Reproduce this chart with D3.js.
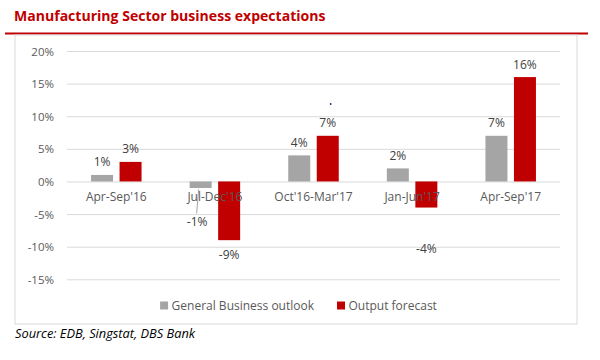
<!DOCTYPE html>
<html>
<head>
<meta charset="utf-8">
<script src="https://cdn.jsdelivr.net/npm/d3@7"></script>
<style>
  html, body { margin: 0; padding: 0; background: #ffffff; }
  svg { display: block; }
  text { font-family: "Open Sans", "Noto Sans", sans-serif; }
</style>
</head>
<body>
<svg id="chart" width="600" height="360"></svg>
<script>
// ---- data ----
const categories = ["Apr-Sep'16", "Jul-Dec'16", "Oct'16-Mar'17", "Jan-Jun'17", "Apr-Sep'17"];
const generalOutlook = [0.01, -0.01, 0.04, 0.02, 0.07];
const outputForecast = [0.03, -0.09, 0.07, -0.04, 0.16];
const seriesNames = ["General Business outlook", "Output forecast"];
const yTicks = [-0.15, -0.10, -0.05, 0, 0.05, 0.10, 0.15, 0.20];
const titleText = "Manufacturing Sector business expectations";
const sourceText = "Source: EDB, Singstat, DBS Bank";

// ---- styles ----
const colors = { "General Business outlook": "#a5a5a5", "Output forecast": "#c00000" };
const textGray = "#595959";
const gridGray = "#d9d9d9";

const svg = d3.select("#chart");

// title and rule
svg.append("text").attr("x", 14).attr("y", 20.5)
  .attr("fill", "#c00000").attr("font-weight", "bold").attr("font-size", 14.05)
  .text(titleText);
svg.append("line").attr("x1", 5).attr("x2", 588).attr("y1", 33.5).attr("y2", 33.5)
  .attr("stroke", "#c00000").attr("stroke-width", 2.2);

// chart frame
svg.append("rect").attr("x", 15).attr("y", 35).attr("width", 562).attr("height", 289)
  .attr("fill", "none").attr("stroke", gridGray).attr("stroke-width", 1);

// scales
const y = d3.scaleLinear().domain([-0.15, 0.20]).range([279.3, 51]);
const x0 = d3.scaleBand().domain(categories).range([67, 560]).paddingInner(0).paddingOuter(0);
const groupW = 50.5;
const x1 = d3.scaleBand().domain(seriesNames)
  .range([(x0.bandwidth() - groupW) / 2, (x0.bandwidth() + groupW) / 2])
  .paddingInner(6.5 / 28.5).paddingOuter(0);

const f0 = d3.format(".0%");
const pct = v => f0(v).replace("\u2212", "-");

// gridlines + y tick labels
const yAxis = d3.axisLeft(y).tickValues(yTicks).tickFormat(pct).tickSize(0).tickPadding(0);
const gy = svg.append("g").attr("transform", "translate(67,0)").call(yAxis);
gy.select(".domain").remove();
gy.selectAll(".tick line").attr("x1", 0).attr("x2", 560 - 67).attr("stroke", gridGray).attr("stroke-width", 1);
gy.selectAll(".tick text").attr("x", -13).attr("fill", textGray).attr("font-size", 11.5)
  .attr("font-family", "'Open Sans', sans-serif").attr("dy", "0.35em");

// bars
const rows = categories.map((c, i) => ({ cat: c, vals: [
  { s: seriesNames[0], v: generalOutlook[i] },
  { s: seriesNames[1], v: outputForecast[i] }
]}));

const groups = svg.append("g").selectAll("g").data(rows).join("g")
  .attr("transform", d => `translate(${x0(d.cat)},0)`);

groups.selectAll("rect").data(d => d.vals).join("rect")
  .attr("x", d => x1(d.s))
  .attr("width", x1.bandwidth())
  .attr("y", d => y(Math.max(0, d.v)))
  .attr("height", d => Math.abs(y(d.v) - y(0)))
  .attr("fill", d => colors[d.s]);

// category axis labels (on top of the bars, as in the original)
const xAxis = d3.axisBottom(x0).tickSize(0).tickPadding(0);
const gx = svg.append("g").attr("transform", `translate(0,${y(0)})`).call(xAxis);
gx.select(".domain").remove();
gx.selectAll(".tick text").attr("y", 20).attr("dy", 0).attr("fill", textGray).attr("font-size", 12)
  .attr("font-family", "'Open Sans', sans-serif");

// data labels — negative labels were manually nudged in the original
const negNudge = {
  "Jul-Dec'16|General Business outlook": { dx: -3.5, dy: 38.5 },
  "Jul-Dec'16|Output forecast": { dx: 0, dy: 19 },
  "Jan-Jun'17|Output forecast": { dx: 0, dy: 45.5 }
};
groups.each(function(d) {
  const g = d3.select(this);
  d.vals.forEach(v => {
    const cx = x1(v.s) + x1.bandwidth() / 2;
    let lx = cx, ly;
    if (v.v >= 0) {
      ly = y(v.v) - 8.5;
    } else {
      const n = negNudge[d.cat + "|" + v.s] || { dx: 0, dy: 19 };
      lx = cx + n.dx;
      ly = y(v.v) + n.dy;
      if (n.dy > 30 && v.s === seriesNames[0]) {
        g.append("line").attr("x1", cx - 2).attr("y1", y(v.v) + 1.5)
          .attr("x2", lx - 0.5).attr("y2", ly - 13)
          .attr("stroke", "#8c8c8c").attr("stroke-width", 0.8);
      }
    }
    g.append("text").attr("x", lx).attr("y", ly).attr("text-anchor", "middle")
      .attr("fill", "#404040").attr("font-size", 12).text(pct(v.v));
  });
});

// stray dot in the original
svg.append("circle").attr("cx", 330.7).attr("cy", 104).attr("r", 0.9).attr("fill", "#1a237e");

// legend
const legend = svg.append("g");
let lx = 0;
seriesNames.forEach((s, i) => {
  const item = legend.append("g").attr("transform", `translate(${lx},0)`);
  item.append("rect").attr("x", 0).attr("y", -8.5).attr("width", 8).attr("height", 8).attr("fill", colors[s]);
  const t = item.append("text").attr("x", 11.5).attr("y", 0).attr("fill", textGray).attr("font-size", 12).text(s);
  lx += 11.5 + t.node().getComputedTextLength() + 23;
});
const legW = lx - 23;
legend.attr("transform", `translate(${298.5 - legW / 2},310)`);

// source
svg.append("text").attr("x", 15).attr("y", 337.5).attr("font-style", "italic")
  .attr("fill", "#000").attr("font-size", 12.8).text(sourceText);
</script>
</body>
</html>
